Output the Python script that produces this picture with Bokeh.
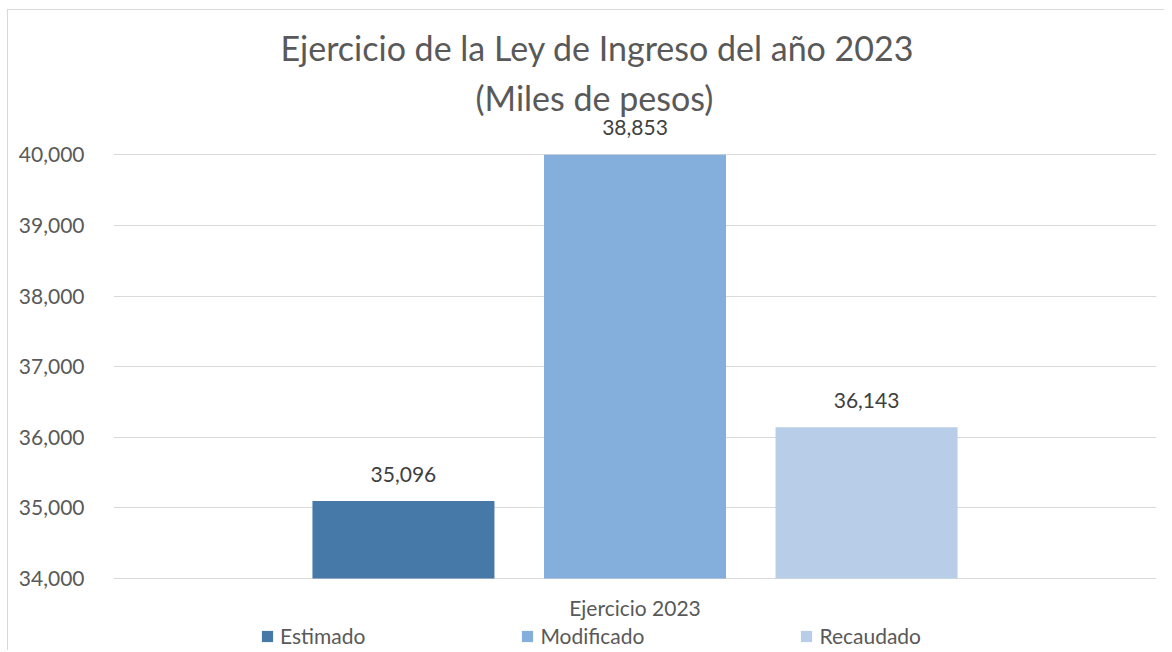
from bokeh.plotting import figure
from bokeh.models import (ColumnDataSource, FactorRange, Range1d, FixedTicker,
                          NumeralTickFormatter, Legend, LegendItem, Title)
from bokeh.transform import dodge
from bokeh.core.properties import value
from bokeh.embed import file_html
from bokeh.resources import INLINE

# ---------------- data ----------------
categoria = ["Ejercicio 2023"]
series = ["Estimado", "Modificado", "Recaudado"]
valores = [35096, 38853, 36143]          # values printed on the bars
alturas = [35096, 40000, 36143]          # bar tops as drawn (Modificado reaches the axis top)
colores = ["#4678A8", "#84AEDB", "#B8CDE8"]
desplazamientos = [-0.222, 0.0, 0.222]
y_ticks = [34000, 35000, 36000, 37000, 38000, 39000, 40000]
base = 34000
titulo = "Ejercicio de la Ley de Ingreso del año 2023"
subtitulo = "(Miles de pesos)"

FONT = "Lato"
GRAY = "#595959"

p = figure(width=1164, height=650, output_backend="svg", toolbar_location=None,
           x_range=FactorRange(factors=categoria, range_padding=0),
           y_range=Range1d(32980, 40500),
           min_border_left=113, min_border_right=8, min_border_top=119,
           min_border_bottom=0, outline_line_color=None,
           background_fill_color="white", border_fill_alpha=0)

# thin chart-area border on the left and top (as in the reference)
p.styles = {"background": ("linear-gradient(#d9d9d9,#d9d9d9) 7px 9px / 1px 100% no-repeat, "
                           "linear-gradient(#d9d9d9,#d9d9d9) 7px 9px / 100% 1px no-repeat, white")}

# titles (first added is closest to the plot)
p.add_layout(Title(text=subtitulo, align="left", offset=362, text_font=FONT,
                   text_font_size="34px", text_font_style="normal",
                   text_color=GRAY, standoff=4), "above")
p.add_layout(Title(text=titulo, align="left", offset=167, text_font=FONT,
                   text_font_size="34px", text_font_style="normal",
                   text_color=GRAY, standoff=10), "above")

items = []
for s, h, v, c, d in zip(series, alturas, valores, colores, desplazamientos):
    src = ColumnDataSource(dict(x=categoria, top=[h], lab=[f"{v:,}"]))
    r = p.vbar(x=dodge("x", d, range=p.x_range), top="top", bottom=base,
               width=0.1745, source=src, fill_color=c, line_color=None)
    p.text(x=dodge("x", d, range=p.x_range), y="top", text="lab", source=src,
           text_align="center", text_baseline="alphabetic", y_offset=-27,
           text_font=value(FONT), text_font_size="21px", text_color="#404040")
    items.append(LegendItem(label=s, renderers=[r]))

# category label under the baseline (acts as the x axis label)
cat_src = ColumnDataSource(dict(x=categoria, y=[base]))
p.text(x="x", y="y", text="x", source=cat_src, text_align="center",
       text_baseline="middle", y_offset=29, text_font=value(FONT),
       text_font_size="21px", text_color=GRAY)

# axes
p.yaxis.ticker = FixedTicker(ticks=y_ticks)
p.yaxis.formatter = NumeralTickFormatter(format="0,0")
p.yaxis.axis_line_color = None
p.yaxis.major_tick_line_color = None
p.yaxis.minor_tick_line_color = None
p.yaxis.major_label_standoff = 23
p.yaxis.major_label_text_font = FONT
p.yaxis.major_label_text_font_size = "21px"
p.yaxis.major_label_text_color = GRAY

p.xaxis.visible = False
p.xgrid.grid_line_color = None
p.ygrid.grid_line_color = "#d9d9d9"
p.ygrid.ticker = FixedTicker(ticks=y_ticks)

legend = Legend(items=items, orientation="horizontal", location=(147, 2),
                glyph_width=14, glyph_height=14, label_standoff=6,
                label_width=0, spacing=155, padding=0, margin=0,
                border_line_color=None, background_fill_alpha=0,
                label_text_font=FONT, label_text_font_size="21px",
                label_text_color=GRAY, label_height=20)
p.add_layout(legend, "center")

open("out.html", "w").write(file_html(p, INLINE))
